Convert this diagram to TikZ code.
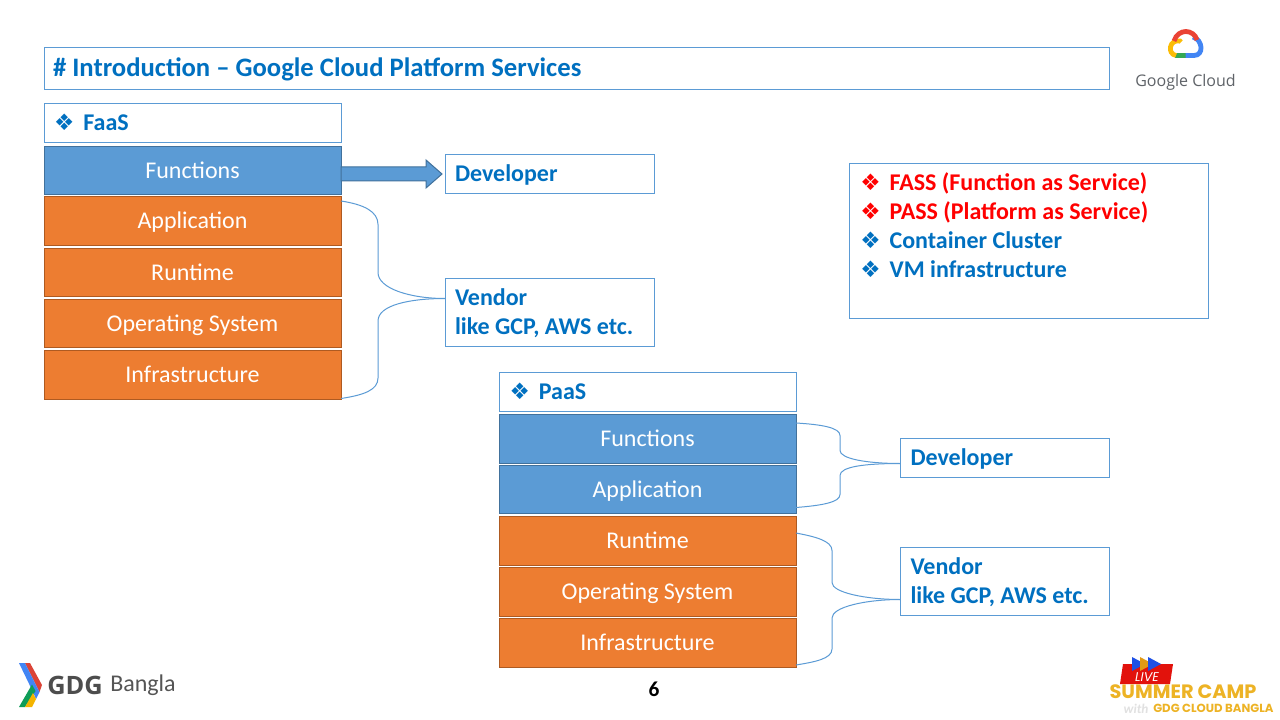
\documentclass[tikz,border=0pt]{standalone}
\usepackage{fontspec}
\setmainfont{Carlito}
\newfontfamily\djfam{DejaVu Sans}
\newfontfamily\popfam{Poppins}
\newfontfamily\opsfam{Open Sans}
\usetikzlibrary{calc}
\definecolor{bl}{HTML}{5B9BD5}
\definecolor{bld}{HTML}{41719C}
\definecolor{org}{HTML}{ED7D31}
\definecolor{orgd}{HTML}{AE5A21}
\definecolor{tb}{HTML}{0070C0}
\definecolor{gold}{HTML}{EDB325}
\newcommand\dia{\makebox[22pt][l]{\djfam\fontsize{17}{15}\selectfont ❖}}
\tikzset{
 x=0.75pt,y=-0.75pt,
 box/.style 2 args={minimum width=#1*0.75pt,minimum height=#2*0.75pt,inner sep=0pt,outer sep=0pt,line width=0.75pt},
 wbox/.style={draw=bl,fill=white,text=tb,align=flush left,font=\bfseries\fontsize{18}{21.4}\selectfont,anchor=north west,text height=11.2pt,text depth=0pt},
 twoline/.style={text depth=21.4pt},
 bluebox/.style={draw=bld,fill=bl,text=white,font=\fontsize{18}{21}\selectfont,text height=11.7pt,text depth=0pt},
 orgbox/.style={draw=orgd,fill=org,text=white,font=\fontsize{18}{21}\selectfont,text height=11.7pt,text depth=0pt},
 link/.style={draw=bl,line width=0.75pt},
 legtext/.style={anchor=north west,inner sep=0pt,font=\bfseries\fontsize{18}{21.75}\selectfont,align=flush left},
}
\begin{document}
\begin{tikzpicture}
\useasboundingbox (0,0) rectangle (1280,720);
\fill[white] (0,0) rectangle (1280,720);

% title
\node[wbox,box={1065}{42},text width=1047*0.75pt,font=\bfseries\fontsize{20}{24}\selectfont,text height=12.4pt] (title) at (44,47.5) {\# Introduction – Google Cloud Platform Services};

% FaaS
\node[wbox,box={297}{39},text width=277*0.75pt] (faas) at (44,103.5) {\dia FaaS};
\node[bluebox,box={297}{48}] (ffn) at (192.5,170.5) {Functions};
\node[orgbox,box={297}{49}] (fapp) at (192.5,221) {Application};
\node[orgbox,box={297}{48}] (frt) at (192.5,272.5) {Runtime};
\node[orgbox,box={297}{48}] (fos) at (192.5,323.5) {Operating System};
\node[orgbox,box={297}{49}] (finf) at (192.5,375) {Infrastructure};
\node[wbox,box={209}{39},text width=189*0.75pt] (fdev) at (445,154.5) {Developer};
\node[wbox,twoline,box={209}{68},text width=189*0.75pt] (fven) at (445,278.5) {Vendor\\like GCP, AWS etc.};

% block arrow
\draw[draw=bld,fill=bl,line width=0.75pt]
  ($(ffn.east)+(0,-3.5)$) -- ++(85,0) -- ++(0,-7) -- ++(16,14) -- ++(-16,14) -- ++(0,-7) -- ($(ffn.east)+(0,10.5)$) -- cycle;

% curly connectors FaaS
\coordinate (fj) at ($(fven.north west)+(0,20)$);
\coordinate (a) at (fapp.north east);
\coordinate (b) at (finf.south east);
\draw[link] ($(a)+(0,4.5)$) .. controls ($(a)+(23,8)$) and ($(a)+(37,15)$) .. ($(a)+(37,28)$)
  -- ($(a)+(37,76)$) .. controls ($(a)+(37,92)$) and ($(fj)+(-35,0)$) .. (fj);
\draw[link] ($(b)+(0,-1)$) .. controls ($(b)+(23,-4.5)$) and ($(b)+(37,-9.5)$) .. ($(b)+(37,-21.5)$)
  -- ($(b)+(37,-78.5)$) .. controls ($(b)+(37,-94.5)$) and ($(fj)+(-35,0)$) .. (fj);

% right legend
\node[wbox,box={359}{155},anchor=north west] (leg) at (849.5,163.5) {};
\node[legtext,text=red] (l1) at (860,172.5) {\dia FASS (Function as Service)\\\dia PASS (Platform as Service)};
\node[legtext,text=tb] (l2) at (860,231) {\dia Container Cluster\\\dia VM infrastructure};

% PaaS
\node[wbox,box={297}{39},text width=277*0.75pt] (paas) at (499.5,372.5) {\dia PaaS};
\node[bluebox,box={297}{49}] (pfn) at (647.5,439) {Functions};
\node[bluebox,box={297}{48}] (papp) at (647.5,489.5) {Application};
\node[orgbox,box={297}{49}] (prt) at (647.5,541) {Runtime};
\node[orgbox,box={297}{49}] (pos) at (647.5,592) {Operating System};
\node[orgbox,box={297}{49}] (pinf) at (647.5,643) {Infrastructure};
\node[wbox,box={209}{39},text width=189*0.75pt] (pdev) at (900.5,438.5) {Developer};
\node[wbox,twoline,box={209}{68},text width=189*0.75pt] (pven) at (900.5,547.5) {Vendor\\like GCP, AWS etc.};

% curly connectors PaaS
\coordinate (dj) at ($(pdev.north west)+(0,25)$);
\coordinate (vj) at ($(pven.north west)+(0,52)$);
\coordinate (c) at (pfn.north east);
\coordinate (d) at (papp.south east);
\coordinate (e) at (prt.north east);
\coordinate (f) at (pinf.south east);
\draw[link] ($(c)+(0,8.5)$) .. controls ($(c)+(25,10)$) and ($(c)+(44,13)$) .. ($(c)+(44,21)$)
  -- ($(c)+(44,36)$) .. controls ($(c)+(44,44)$) and ($(dj)+(-35,0)$) .. (dj);
\draw[link] ($(d)+(0,-6)$) .. controls ($(d)+(25,-8)$) and ($(d)+(44,-11)$) .. ($(d)+(44,-19)$)
  -- ($(d)+(44,-38)$) .. controls ($(d)+(44,-47)$) and ($(dj)+(-35,0)$) .. (dj);
\draw[link] ($(e)+(0,16.5)$) .. controls ($(e)+(18,20)$) and ($(e)+(36,24)$) .. ($(e)+(36,34)$)
  -- ($(e)+(36,66)$) .. controls ($(e)+(36,76)$) and ($(vj)+(-35,0)$) .. (vj);
\draw[link] ($(f)+(0,-2.5)$) .. controls ($(f)+(18,-5.5)$) and ($(f)+(36,-8.5)$) .. ($(f)+(36,-18.5)$)
  -- ($(f)+(36,-49.5)$) .. controls ($(f)+(36,-60.5)$) and ($(vj)+(-35,0)$) .. (vj);

% page number
\node[inner sep=0pt,font=\bfseries\fontsize{16}{18}\selectfont] (pg) at (654,689) {6};

% Google Cloud logo
\begin{scope}[line width=3.6pt]
 \draw[color={rgb,255:red,52;green,168;blue,83}] (1175,55.5) -- (1186,55.5);
 \draw[color={rgb,255:red,66;green,133;blue,244}] (1185.5,55.5) -- (1194,55.5) .. controls (1204,55.5) and (1203,40) .. (1193,37);
 \draw[color={rgb,255:red,251;green,188;blue,5}] (1176,55.5) .. controls (1167,54) and (1169,39) .. (1180,41) -- (1181,42);
 \draw[color={rgb,255:red,234;green,67;blue,53}] (1174,41) .. controls (1178,28) and (1194,29) .. (1197,40);
\end{scope}
\node[inner sep=0pt,text={rgb,255:red,95;green,99;blue,104},font=\opsfam\fontsize{12}{14}\selectfont] (gc) at (1185.5,82) {Google Cloud};

% GDG logo
\fill[color={rgb,255:red,219;green,68;blue,55}] (25,663) -- (30,663) -- (42,685) -- (39.5,692) -- cycle;
\fill[color={rgb,255:red,66;green,133;blue,244}] (19,663) -- (25,663) -- (39.5,692) -- (36,699) -- (33,692) -- cycle;
\fill[color={rgb,255:red,15;green,157;blue,88}] (19,707) -- (32,684.5) -- (35.5,691) -- (25,707) -- cycle;
\fill[color={rgb,255:red,244;green,180;blue,0}] (25,707) -- (32,707) -- (36,699) -- (33,693) -- cycle;
\node[anchor=west,inner sep=0pt,text={rgb,255:red,77;green,77;blue,77},font=\opsfam\bfseries\fontsize{19}{22}\selectfont] (gdg) at (47,685) {GDG};
\node[anchor=west,inner sep=0pt,text={rgb,255:red,85;green,85;blue,85},font=\fontsize{18}{22}\selectfont] (bangla) at (110,685) {Bangla};

% Summer camp logo
\fill[color={rgb,255:red,226;green,18;blue,12}] (1123,664) -- (1173,664) -- (1170,684) -- (1120,684) -- cycle;
\fill[color={rgb,255:red,30;green,80;blue,230}] (1132,657) -- (1132,671) -- (1145,664) -- cycle;
\fill[color={rgb,255:red,226;green,154;blue,20}] (1140,657) -- (1140,671) -- (1153,664) -- cycle;
\fill[color={rgb,255:red,30;green,80;blue,230}] (1148,657) -- (1148,671) -- (1161,664) -- cycle;
\node[inner sep=0pt,text=white,font=\popfam\itshape\fontsize{9.5}{10}\selectfont] (live) at (1147,677) {LIVE};
\node[inner sep=0pt,text=gold,font=\popfam\bfseries\fontsize{14.5}{15}\selectfont,text height=10pt,text depth=0pt] (sc) at (1183,691.5) {SUMMER CAMP};
\node[inner sep=0pt,text={rgb,255:red,225;green,225;blue,225},font=\bfseries\itshape\fontsize{10}{10}\selectfont,text height=6pt,text depth=0pt] (wth) at (1136,709.5) {with};
\node[anchor=west,inner sep=0pt,text=gold,font=\popfam\bfseries\fontsize{8.8}{10}\selectfont,text height=6pt,text depth=0pt] (gcb) at (1153,708) {GDG CLOUD BANGLA};
\end{tikzpicture}
\end{document}
